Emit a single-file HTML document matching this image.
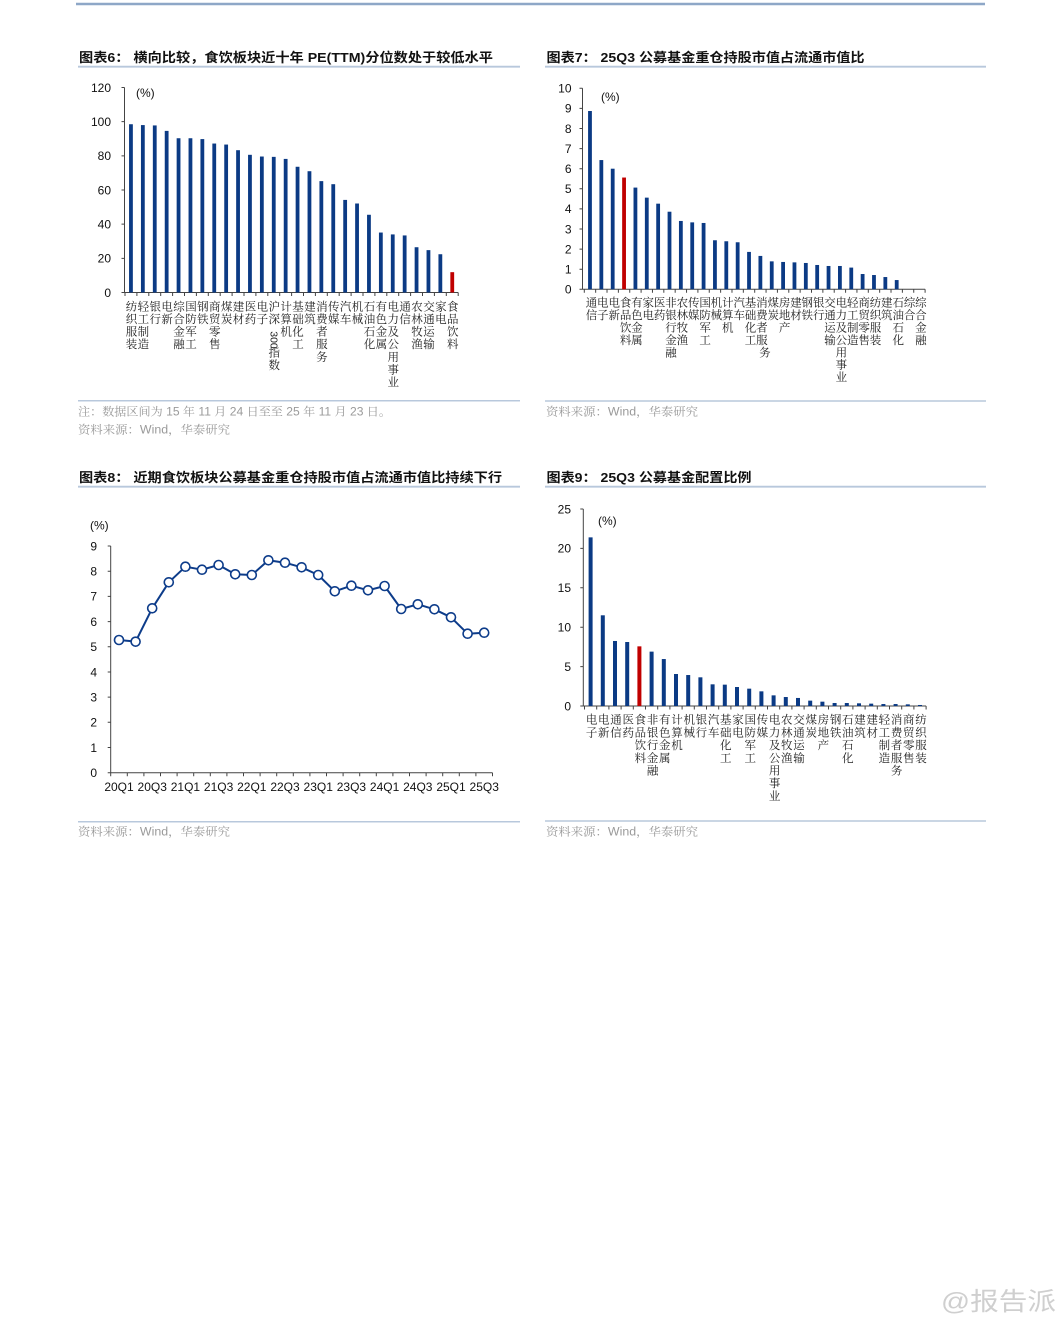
<!DOCTYPE html>
<html><head><meta charset="utf-8"><style>
html,body{margin:0;padding:0;background:#fff;}
svg{display:block;}
.t{font-family:"Liberation Sans","Noto Sans CJK SC",sans-serif;font-weight:bold;font-size:13px;fill:#111;}
.n{font-family:"Liberation Sans",sans-serif;font-size:12px;fill:#111;}
.nr{font-family:"Liberation Sans",sans-serif;font-size:12px;fill:#111;text-anchor:end;}
.nm{font-family:"Liberation Sans",sans-serif;font-size:12px;fill:#111;text-anchor:middle;}
.lb{font-family:"Liberation Serif","Noto Serif CJK SC",serif;font-size:11.5px;fill:#222;text-anchor:middle;}
.src{font-family:"Liberation Sans","Noto Serif CJK SC",serif;font-size:11.5px;fill:#9a9a9a;}
.ax{stroke:#444;stroke-width:1;fill:none;}
.b{fill:#0b3a84;}
.r{fill:#c00000;}
</style></head><body>
<svg width="1061" height="1320" viewBox="0 0 1061 1320" xmlns="http://www.w3.org/2000/svg">
<rect width="1061" height="1320" fill="#fff"/>
<line x1="76" y1="4" x2="985" y2="4" stroke="#8ea7c7" stroke-width="2.5"/>

<!-- ============ Chart 6 ============ -->
<text class="t" x="79" y="62" textLength="414" lengthAdjust="spacingAndGlyphs">图表6： 横向比较，食饮板块近十年 PE(TTM)分位数处于较低水平</text>
<line x1="78" y1="66.7" x2="520" y2="66.7" stroke="#b8c8dc" stroke-width="1.8"/>
<path class="ax" d="M124.5 87.5V292.5H458.2M121.5 292.5h3M121.5 258.33h3M121.5 224.17h3M121.5 190h3M121.5 155.83h3M121.5 121.67h3M121.5 87.5h3
M125 292.5v3.5M136.9 292.5v3.5M148.8 292.5v3.5M160.7 292.5v3.5M172.6 292.5v3.5M184.5 292.5v3.5M196.4 292.5v3.5M208.3 292.5v3.5M220.2 292.5v3.5M232.1 292.5v3.5M244 292.5v3.5M255.9 292.5v3.5M267.8 292.5v3.5M279.7 292.5v3.5M291.6 292.5v3.5M303.5 292.5v3.5M315.4 292.5v3.5M327.3 292.5v3.5M339.2 292.5v3.5M351.1 292.5v3.5M363 292.5v3.5M374.9 292.5v3.5M386.8 292.5v3.5M398.7 292.5v3.5M410.6 292.5v3.5M422.5 292.5v3.5M434.4 292.5v3.5M446.3 292.5v3.5M458.2 292.5v3.5"/>
<text class="nr" x="111" y="296.8">0</text>
<text class="nr" x="111" y="262.6">20</text>
<text class="nr" x="111" y="228.5">40</text>
<text class="nr" x="111" y="194.3">60</text>
<text class="nr" x="111" y="160.1">80</text>
<text class="nr" x="111" y="126">100</text>
<text class="nr" x="111" y="91.8">120</text>
<text class="n" x="136" y="97">(%)</text>
<g class="b">
<rect x="129.05" y="124.23" width="3.8" height="168.27"/>
<rect x="140.95" y="125.08" width="3.8" height="167.42"/>
<rect x="152.85" y="125.43" width="3.8" height="167.07"/>
<rect x="164.75" y="130.89" width="3.8" height="161.61"/>
<rect x="176.65" y="138.24" width="3.8" height="154.26"/>
<rect x="188.55" y="138.24" width="3.8" height="154.26"/>
<rect x="200.45" y="139.09" width="3.8" height="153.41"/>
<rect x="212.35" y="143.54" width="3.8" height="148.96"/>
<rect x="224.25" y="144.56" width="3.8" height="147.94"/>
<rect x="236.15" y="150.2" width="3.8" height="142.3"/>
<rect x="248.05" y="154.81" width="3.8" height="137.69"/>
<rect x="259.95" y="156.52" width="3.8" height="135.98"/>
<rect x="271.85" y="156.86" width="3.8" height="135.64"/>
<rect x="283.75" y="158.91" width="3.8" height="133.59"/>
<rect x="295.65" y="166.77" width="3.8" height="125.73"/>
<rect x="307.55" y="171.21" width="3.8" height="121.29"/>
<rect x="319.45" y="181.12" width="3.8" height="111.38"/>
<rect x="331.35" y="184.19" width="3.8" height="108.31"/>
<rect x="343.25" y="199.91" width="3.8" height="92.59"/>
<rect x="355.15" y="203.5" width="3.8" height="89"/>
<rect x="367.05" y="214.77" width="3.8" height="77.73"/>
<rect x="378.95" y="232.54" width="3.8" height="59.96"/>
<rect x="390.85" y="234.42" width="3.8" height="58.08"/>
<rect x="402.75" y="235.44" width="3.8" height="57.06"/>
<rect x="414.65" y="247.23" width="3.8" height="45.27"/>
<rect x="426.55" y="250.13" width="3.8" height="42.37"/>
<rect x="438.45" y="254.23" width="3.8" height="38.27"/>
</g>
<rect class="r" x="450.35" y="272.17" width="3.8" height="20.33"/>
<g class="lb">
<text x="131.45 131.45 131.45 131.45" y="310.4 323 335.6 348.2">纺织服装</text>
<text x="143.35 143.35 143.35 143.35" y="310.4 323 335.6 348.2">轻工制造</text>
<text x="155.25 155.25" y="310.4 323">银行</text>
<text x="167.15 167.15" y="310.4 323">电新</text>
<text x="179.05 179.05 179.05 179.05" y="310.4 323 335.6 348.2">综合金融</text>
<text x="190.95 190.95 190.95 190.95" y="310.4 323 335.6 348.2">国防军工</text>
<text x="202.85 202.85" y="310.4 323">钢铁</text>
<text x="214.75 214.75 214.75 214.75" y="310.4 323 335.6 348.2">商贸零售</text>
<text x="226.65 226.65" y="310.4 323">煤炭</text>
<text x="238.55 238.55" y="310.4 323">建材</text>
<text x="250.45 250.45" y="310.4 323">医药</text>
<text x="262.35 262.35" y="310.4 323">电子</text>
<text x="274.25 274.25" y="310.4 323">沪深</text>
<text x="274.25 274.25" y="356.4 369">指数</text>
<text x="286.15 286.15 286.15" y="310.4 323 335.6">计算机</text>
<text x="298.05 298.05 298.05 298.05" y="310.4 323 335.6 348.2">基础化工</text>
<text x="309.95 309.95" y="310.4 323">建筑</text>
<text x="321.85 321.85 321.85 321.85 321.85" y="310.4 323 335.6 348.2 360.8">消费者服务</text>
<text x="333.75 333.75" y="310.4 323">传媒</text>
<text x="345.65 345.65" y="310.4 323">汽车</text>
<text x="357.55 357.55" y="310.4 323">机械</text>
<text x="369.45 369.45 369.45 369.45" y="310.4 323 335.6 348.2">石油石化</text>
<text x="381.35 381.35 381.35 381.35" y="310.4 323 335.6 348.2">有色金属</text>
<text x="393.25 393.25 393.25 393.25 393.25 393.25 393.25" y="310.4 323 335.6 348.2 360.8 373.4 386">电力及公用事业</text>
<text x="405.15 405.15" y="310.4 323">通信</text>
<text x="417.05 417.05 417.05 417.05" y="310.4 323 335.6 348.2">农林牧渔</text>
<text x="428.95 428.95 428.95 428.95" y="310.4 323 335.6 348.2">交通运输</text>
<text x="440.85 440.85" y="310.4 323">家电</text>
<text x="452.75 452.75 452.75 452.75" y="310.4 323 335.6 348.2">食品饮料</text>
</g>
<text transform="translate(274.25,340) rotate(90)" x="0" y="3.6" text-anchor="middle" style="font-family:'Liberation Sans',sans-serif;font-size:10.5px;fill:#222;">300</text>
<line x1="78" y1="400.7" x2="520" y2="400.7" stroke="#b8c8dc" stroke-width="1.5"/>
<text class="src" x="78" y="415.7" textLength="313" lengthAdjust="spacingAndGlyphs">注：数据区间为 15 年 11 月 24 日至至 25 年 11 月 23 日。</text>
<text class="src" x="78" y="433.3" textLength="152" lengthAdjust="spacingAndGlyphs">资料来源：Wind，华泰研究</text>

<!-- ============ Chart 7 ============ -->
<text class="t" x="546.5" y="62" textLength="318" lengthAdjust="spacingAndGlyphs">图表7： 25Q3 公募基金重仓持股市值占流通市值比</text>
<line x1="545" y1="66.7" x2="986" y2="66.7" stroke="#b8c8dc" stroke-width="1.8"/>
<path class="ax" d="M582.5 88.3V289.3H925.1M579.5 289.3h3M579.5 269.2h3M579.5 249.1h3M579.5 229h3M579.5 208.9h3M579.5 188.8h3M579.5 168.7h3M579.5 148.6h3M579.5 128.5h3M579.5 108.4h3M579.5 88.3h3
M584.3 289.3v3.5M595.66 289.3v3.5M607.02 289.3v3.5M618.38 289.3v3.5M629.74 289.3v3.5M641.1 289.3v3.5M652.46 289.3v3.5M663.82 289.3v3.5M675.18 289.3v3.5M686.54 289.3v3.5M697.9 289.3v3.5M709.26 289.3v3.5M720.62 289.3v3.5M731.98 289.3v3.5M743.34 289.3v3.5M754.7 289.3v3.5M766.06 289.3v3.5M777.42 289.3v3.5M788.78 289.3v3.5M800.14 289.3v3.5M811.5 289.3v3.5M822.86 289.3v3.5M834.22 289.3v3.5M845.58 289.3v3.5M856.94 289.3v3.5M868.3 289.3v3.5M879.66 289.3v3.5M891.02 289.3v3.5M902.38 289.3v3.5M913.74 289.3v3.5M925.1 289.3v3.5"/>
<text class="nr" x="571.5" y="293.6">0</text>
<text class="nr" x="571.5" y="273.5">1</text>
<text class="nr" x="571.5" y="253.4">2</text>
<text class="nr" x="571.5" y="233.3">3</text>
<text class="nr" x="571.5" y="213.2">4</text>
<text class="nr" x="571.5" y="193.1">5</text>
<text class="nr" x="571.5" y="173">6</text>
<text class="nr" x="571.5" y="152.9">7</text>
<text class="nr" x="571.5" y="132.8">8</text>
<text class="nr" x="571.5" y="112.7">9</text>
<text class="nr" x="571.5" y="92.6">10</text>
<text class="n" x="601" y="100.8">(%)</text>
<g class="b">
<rect x="588.08" y="111.01" width="3.8" height="178.29"/>
<rect x="599.44" y="160.06" width="3.8" height="129.24"/>
<rect x="610.8" y="168.7" width="3.8" height="120.6"/>
<rect x="633.52" y="187.59" width="3.8" height="101.71"/>
<rect x="644.88" y="197.64" width="3.8" height="91.66"/>
<rect x="656.24" y="203.67" width="3.8" height="85.63"/>
<rect x="667.6" y="211.71" width="3.8" height="77.59"/>
<rect x="678.96" y="220.96" width="3.8" height="68.34"/>
<rect x="690.32" y="222.37" width="3.8" height="66.93"/>
<rect x="701.68" y="222.97" width="3.8" height="66.33"/>
<rect x="713.04" y="240.26" width="3.8" height="49.04"/>
<rect x="724.4" y="241.26" width="3.8" height="48.04"/>
<rect x="735.76" y="242.27" width="3.8" height="47.03"/>
<rect x="747.12" y="251.91" width="3.8" height="37.39"/>
<rect x="758.48" y="255.93" width="3.8" height="33.37"/>
<rect x="769.84" y="261.36" width="3.8" height="27.94"/>
<rect x="781.2" y="261.96" width="3.8" height="27.34"/>
<rect x="792.56" y="262.37" width="3.8" height="26.93"/>
<rect x="803.92" y="262.97" width="3.8" height="26.33"/>
<rect x="815.28" y="264.98" width="3.8" height="24.32"/>
<rect x="826.64" y="265.98" width="3.8" height="23.32"/>
<rect x="838" y="265.98" width="3.8" height="23.32"/>
<rect x="849.36" y="267.59" width="3.8" height="21.71"/>
<rect x="860.72" y="274.02" width="3.8" height="15.28"/>
<rect x="872.08" y="275.03" width="3.8" height="14.27"/>
<rect x="883.44" y="277.04" width="3.8" height="12.26"/>
<rect x="894.8" y="280.05" width="3.8" height="9.25"/>
</g>
<rect class="r" x="622.16" y="177.54" width="3.8" height="111.76"/>
<g class="lb">
<text x="591.5 591.5" y="306.7 319.1">通信</text>
<text x="602.8 602.8" y="306.7 319.1">电子</text>
<text x="614.2 614.2" y="306.7 319.1">电新</text>
<text x="625.6 625.6 625.6 625.6" y="306.7 319.1 331.5 343.9">食品饮料</text>
<text x="636.9 636.9 636.9 636.9" y="306.7 319.1 331.5 343.9">有色金属</text>
<text x="648.3 648.3" y="306.7 319.1">家电</text>
<text x="659.6 659.6" y="306.7 319.1">医药</text>
<text x="671 671 671 671 671" y="306.7 319.1 331.5 343.9 356.3">非银行金融</text>
<text x="682.4 682.4 682.4 682.4" y="306.7 319.1 331.5 343.9">农林牧渔</text>
<text x="693.7 693.7" y="306.7 319.1">传媒</text>
<text x="705.1 705.1 705.1 705.1" y="306.7 319.1 331.5 343.9">国防军工</text>
<text x="716.4 716.4" y="306.7 319.1">机械</text>
<text x="727.8 727.8 727.8" y="306.7 319.1 331.5">计算机</text>
<text x="739.2 739.2" y="306.7 319.1">汽车</text>
<text x="750.5 750.5 750.5 750.5" y="306.7 319.1 331.5 343.9">基础化工</text>
<text x="761.9 761.9 761.9 761.9 764.9" y="306.7 319.1 331.5 343.9 356.3">消费者服务</text>
<text x="773.2 773.2" y="306.7 319.1">煤炭</text>
<text x="784.6 784.6 784.6" y="306.7 319.1 331.5">房地产</text>
<text x="796 796" y="306.7 319.1">建材</text>
<text x="807.3 807.3" y="306.7 319.1">钢铁</text>
<text x="818.7 818.7" y="306.7 319.1">银行</text>
<text x="830 830 830 830" y="306.7 319.1 331.5 343.9">交通运输</text>
<text x="841.4 841.4 841.4 841.4 841.4 841.4 841.4" y="306.7 319.1 331.5 343.9 356.3 368.7 381.1">电力及公用事业</text>
<text x="852.8 852.8 852.8 852.8" y="306.7 319.1 331.5 343.9">轻工制造</text>
<text x="864.1 864.1 864.1 864.1" y="306.7 319.1 331.5 343.9">商贸零售</text>
<text x="875.5 875.5 875.5 875.5" y="306.7 319.1 331.5 343.9">纺织服装</text>
<text x="886.8 886.8" y="306.7 319.1">建筑</text>
<text x="898.2 898.2 898.2 898.2" y="306.7 319.1 331.5 343.9">石油石化</text>
<text x="909.6 909.6" y="306.7 319.1">综合</text>
<text x="920.9 920.9 920.9 920.9" y="306.7 319.1 331.5 343.9">综合金融</text>
</g>
<line x1="545" y1="401" x2="986" y2="401" stroke="#b8c8dc" stroke-width="1.5"/>
<text class="src" x="546" y="415.7" textLength="152" lengthAdjust="spacingAndGlyphs">资料来源：Wind，华泰研究</text>

<!-- ============ Chart 8 ============ -->
<text class="t" x="79" y="482" textLength="423" lengthAdjust="spacingAndGlyphs">图表8： 近期食饮板块公募基金重仓持股市值占流通市值比持续下行</text>
<line x1="78" y1="486.7" x2="520" y2="486.7" stroke="#b8c8dc" stroke-width="1.8"/>
<path class="ax" d="M110.7 546V772.7H492.5M107.7 772.7h3M107.7 747.5h3M107.7 722.3h3M107.7 697.1h3M107.7 672h3M107.7 646.8h3M107.7 621.6h3M107.7 596.4h3M107.7 571.2h3M107.7 546h3
M110.7 772.7v3.5M127.3 772.7v3.5M143.9 772.7v3.5M160.5 772.7v3.5M177.1 772.7v3.5M193.7 772.7v3.5M210.3 772.7v3.5M226.9 772.7v3.5M243.5 772.7v3.5M260.1 772.7v3.5M276.7 772.7v3.5M293.3 772.7v3.5M309.9 772.7v3.5M326.5 772.7v3.5M343.1 772.7v3.5M359.7 772.7v3.5M376.3 772.7v3.5M392.9 772.7v3.5M409.5 772.7v3.5M426.1 772.7v3.5M442.7 772.7v3.5M459.3 772.7v3.5M475.9 772.7v3.5M492.5 772.7v3.5"/>
<text class="nr" x="97" y="777">0</text>
<text class="nr" x="97" y="751.8">1</text>
<text class="nr" x="97" y="726.6">2</text>
<text class="nr" x="97" y="701.4">3</text>
<text class="nr" x="97" y="676.3">4</text>
<text class="nr" x="97" y="651.1">5</text>
<text class="nr" x="97" y="625.9">6</text>
<text class="nr" x="97" y="600.7">7</text>
<text class="nr" x="97" y="575.5">8</text>
<text class="nr" x="97" y="550.3">9</text>
<text class="n" x="90" y="529.3">(%)</text>
<polyline fill="none" stroke="#0d3c8a" stroke-width="2" stroke-linejoin="round" points="119,640 135.6,641.67 152.2,608.3 168.8,582.3 185.4,566.7 202,569.7 218.6,565 235.2,574.3 251.8,575 268.4,560.3 285,562.7 301.6,567.3 318.2,575 334.8,591.3 351.4,585.7 368,590.3 384.6,586 401.2,609 417.8,604.3 434.4,609.3 451,617.3 467.6,633.7 484.2,632.7"/>
<g fill="#fff" stroke="#0d3c8a" stroke-width="1.6">
<circle cx="119" cy="640" r="4.5"/><circle cx="135.6" cy="641.67" r="4.5"/><circle cx="152.2" cy="608.3" r="4.5"/><circle cx="168.8" cy="582.3" r="4.5"/><circle cx="185.4" cy="566.7" r="4.5"/><circle cx="202" cy="569.7" r="4.5"/><circle cx="218.6" cy="565" r="4.5"/><circle cx="235.2" cy="574.3" r="4.5"/><circle cx="251.8" cy="575" r="4.5"/><circle cx="268.4" cy="560.3" r="4.5"/><circle cx="285" cy="562.7" r="4.5"/><circle cx="301.6" cy="567.3" r="4.5"/><circle cx="318.2" cy="575" r="4.5"/><circle cx="334.8" cy="591.3" r="4.5"/><circle cx="351.4" cy="585.7" r="4.5"/><circle cx="368" cy="590.3" r="4.5"/><circle cx="384.6" cy="586" r="4.5"/><circle cx="401.2" cy="609" r="4.5"/><circle cx="417.8" cy="604.3" r="4.5"/><circle cx="434.4" cy="609.3" r="4.5"/><circle cx="451" cy="617.3" r="4.5"/><circle cx="467.6" cy="633.7" r="4.5"/><circle cx="484.2" cy="632.7" r="4.5"/>
</g>
<text class="nm" x="119" y="791">20Q1</text>
<text class="nm" x="152.2" y="791">20Q3</text>
<text class="nm" x="185.4" y="791">21Q1</text>
<text class="nm" x="218.6" y="791">21Q3</text>
<text class="nm" x="251.8" y="791">22Q1</text>
<text class="nm" x="285" y="791">22Q3</text>
<text class="nm" x="318.2" y="791">23Q1</text>
<text class="nm" x="351.4" y="791">23Q3</text>
<text class="nm" x="384.6" y="791">24Q1</text>
<text class="nm" x="417.8" y="791">24Q3</text>
<text class="nm" x="451" y="791">25Q1</text>
<text class="nm" x="484.2" y="791">25Q3</text>
<line x1="78" y1="821.7" x2="520" y2="821.7" stroke="#b8c8dc" stroke-width="1.5"/>
<text class="src" x="78" y="835.7" textLength="152" lengthAdjust="spacingAndGlyphs">资料来源：Wind，华泰研究</text>

<!-- ============ Chart 9 ============ -->
<text class="t" x="546.5" y="482" textLength="205" lengthAdjust="spacingAndGlyphs">图表9： 25Q3 公募基金配置比例</text>
<line x1="545" y1="486.7" x2="986" y2="486.7" stroke="#b8c8dc" stroke-width="1.8"/>
<path class="ax" d="M583.3 509V706H926.1M580.3 706h3M580.3 666.6h3M580.3 627.2h3M580.3 587.8h3M580.3 548.4h3M580.3 509h3
M584.5 706v3.5M596.7 706v3.5M608.9 706v3.5M621.1 706v3.5M633.3 706v3.5M645.5 706v3.5M657.7 706v3.5M669.9 706v3.5M682.1 706v3.5M694.3 706v3.5M706.5 706v3.5M718.7 706v3.5M730.9 706v3.5M743.1 706v3.5M755.3 706v3.5M767.5 706v3.5M779.7 706v3.5M791.9 706v3.5M804.1 706v3.5M816.3 706v3.5M828.5 706v3.5M840.7 706v3.5M852.9 706v3.5M865.1 706v3.5M877.3 706v3.5M889.5 706v3.5M901.7 706v3.5M913.9 706v3.5M926.1 706v3.5"/>
<text class="nr" x="571" y="710.3">0</text>
<text class="nr" x="571" y="670.9">5</text>
<text class="nr" x="571" y="631.5">10</text>
<text class="nr" x="571" y="592.1">15</text>
<text class="nr" x="571" y="552.7">20</text>
<text class="nr" x="571" y="513.3">25</text>
<text class="n" x="598" y="525">(%)</text>
<g class="b">
<rect x="588.6" y="537.37" width="4" height="168.63"/>
<rect x="600.8" y="615.3" width="4" height="90.7"/>
<rect x="613" y="640.99" width="4" height="65.01"/>
<rect x="625.2" y="642.01" width="4" height="63.99"/>
<rect x="649.6" y="651.63" width="4" height="54.37"/>
<rect x="661.8" y="659.04" width="4" height="46.96"/>
<rect x="674" y="674.01" width="4" height="31.99"/>
<rect x="686.2" y="675.03" width="4" height="30.97"/>
<rect x="698.4" y="677.32" width="4" height="28.68"/>
<rect x="710.6" y="684.33" width="4" height="21.67"/>
<rect x="722.8" y="684.65" width="4" height="21.35"/>
<rect x="735" y="687.01" width="4" height="18.99"/>
<rect x="747.2" y="688.66" width="4" height="17.34"/>
<rect x="759.4" y="691.34" width="4" height="14.66"/>
<rect x="771.6" y="695.36" width="4" height="10.64"/>
<rect x="783.8" y="697.02" width="4" height="8.98"/>
<rect x="796" y="697.96" width="4" height="8.04"/>
<rect x="808.2" y="700.64" width="4" height="5.36"/>
<rect x="820.4" y="701.67" width="4" height="4.33"/>
<rect x="832.6" y="703.01" width="4" height="2.99"/>
<rect x="844.8" y="703.01" width="4" height="2.99"/>
<rect x="857" y="703.32" width="4" height="2.68"/>
<rect x="869.2" y="703.64" width="4" height="2.36"/>
<rect x="881.4" y="704.03" width="4" height="1.97"/>
<rect x="893.6" y="704.03" width="4" height="1.97"/>
<rect x="905.8" y="704.35" width="4" height="1.65"/>
<rect x="918" y="704.98" width="4" height="1.02"/>
</g>
<rect class="r" x="637.4" y="646.35" width="4" height="59.65"/>
<g class="lb">
<text x="591.6 591.6" y="723.7 736.4">电子</text>
<text x="603.8 603.8" y="723.7 736.4">电新</text>
<text x="616 616" y="723.7 736.4">通信</text>
<text x="628.2 628.2" y="723.7 736.4">医药</text>
<text x="640.4 640.4 640.4 640.4" y="723.7 736.4 749.1 761.8">食品饮料</text>
<text x="652.6 652.6 652.6 652.6 652.6" y="723.7 736.4 749.1 761.8 774.5">非银行金融</text>
<text x="664.8 664.8 664.8 664.8" y="723.7 736.4 749.1 761.8">有色金属</text>
<text x="677 677 677" y="723.7 736.4 749.1">计算机</text>
<text x="689.2 689.2" y="723.7 736.4">机械</text>
<text x="701.4 701.4" y="723.7 736.4">银行</text>
<text x="713.6 713.6" y="723.7 736.4">汽车</text>
<text x="725.8 725.8 725.8 725.8" y="723.7 736.4 749.1 761.8">基础化工</text>
<text x="738 738" y="723.7 736.4">家电</text>
<text x="750.2 750.2 750.2 750.2" y="723.7 736.4 749.1 761.8">国防军工</text>
<text x="762.4 762.4" y="723.7 736.4">传媒</text>
<text x="774.6 774.6 774.6 774.6 774.6 774.6 774.6" y="723.7 736.4 749.1 761.8 774.5 787.2 799.9">电力及公用事业</text>
<text x="786.8 786.8 786.8 786.8" y="723.7 736.4 749.1 761.8">农林牧渔</text>
<text x="799 799 799 799" y="723.7 736.4 749.1 761.8">交通运输</text>
<text x="811.2 811.2" y="723.7 736.4">煤炭</text>
<text x="823.4 823.4 823.4" y="723.7 736.4 749.1">房地产</text>
<text x="835.6 835.6" y="723.7 736.4">钢铁</text>
<text x="847.8 847.8 847.8 847.8" y="723.7 736.4 749.1 761.8">石油石化</text>
<text x="860 860" y="723.7 736.4">建筑</text>
<text x="872.2 872.2" y="723.7 736.4">建材</text>
<text x="884.4 884.4 884.4 884.4" y="723.7 736.4 749.1 761.8">轻工制造</text>
<text x="896.6 896.6 896.6 896.6 896.6" y="723.7 736.4 749.1 761.8 774.5">消费者服务</text>
<text x="908.8 908.8 908.8 908.8" y="723.7 736.4 749.1 761.8">商贸零售</text>
<text x="921 921 921 921" y="723.7 736.4 749.1 761.8">纺织服装</text>
</g>
<line x1="545" y1="821" x2="986" y2="821" stroke="#b8c8dc" stroke-width="1.5"/>
<text class="src" x="546" y="835.7" textLength="152" lengthAdjust="spacingAndGlyphs">资料来源：Wind，华泰研究</text>

<!-- watermark -->
<text x="941" y="1310" textLength="115" lengthAdjust="spacingAndGlyphs" style="font-family:'Liberation Sans','Noto Sans CJK SC',sans-serif;font-size:25px;fill:#cfcfcf;">@报告派</text>
</svg>
</body></html>
